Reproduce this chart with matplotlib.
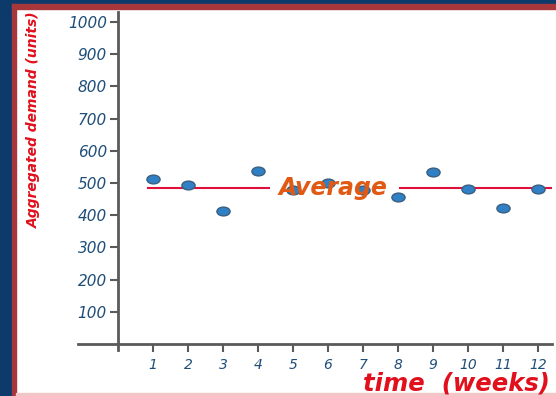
import matplotlib.pyplot as plt
from matplotlib.patches import Rectangle
from matplotlib.path import Path
from matplotlib.transforms import Affine2D

weeks = [1, 2, 3, 4, 5, 6, 7, 8, 9, 10, 11, 12]
demand = [512, 494, 413, 537, 478, 500, 478, 456, 534, 481, 422, 481]
average = 484
y_ticks = [100, 200, 300, 400, 500, 600, 700, 800, 900, 1000]

W, H = 556, 396
fig = plt.figure(figsize=(W / 100, H / 100), dpi=100)
fig.patch.set_facecolor("white")

# slide frame: navy strips + red border
navy = "#0b3a6b"
red = "#a8373b"
fig.patches.append(Rectangle((0, 0), 12 / W, 1, transform=fig.transFigure, color=navy, zorder=0))
fig.patches.append(Rectangle((0, 1 - 4 / H), 1, 4 / H, transform=fig.transFigure, color=navy, zorder=0))
fig.patches.append(Rectangle((12 / W, 0), 4 / W, 1 - 4 / H, transform=fig.transFigure, color=red, zorder=0))
fig.patches.append(Rectangle((12 / W, 1 - 9 / H), 1, 5 / H, transform=fig.transFigure, color=red, zorder=0))
fig.patches.append(Rectangle((16 / W, 0), 1, 3 / H, transform=fig.transFigure, color="#f2c6c6", zorder=0))

xmin, xmax = -1.13, 12.4
ymin, ymax = -20, 1030
px0 = 118 + 35 * xmin
px1 = 118 + 35 * xmax
py0 = 344 + 0.322 * 20
py1 = 344 - 0.322 * ymax
ax = fig.add_axes([px0 / W, 1 - py0 / H, (px1 - px0) / W, (py0 - py1) / H])
ax.set_facecolor("none")
ax.set_xlim(xmin, xmax)
ax.set_ylim(ymin, ymax)

for s in ["top", "right"]:
    ax.spines[s].set_visible(False)
ax.spines["left"].set_position(("data", 0))
ax.spines["bottom"].set_position(("data", 0))
for s in ["left", "bottom"]:
    ax.spines[s].set_color("#5a5a5a")
    ax.spines[s].set_linewidth(2)

ax.set_xticks(weeks)
ax.set_xticklabels([str(w) for w in weeks])
ax.set_yticks(y_ticks)
ax.set_yticklabels([str(v) for v in y_ticks])
ax.tick_params(axis="both", colors="#5a5a5a", width=1.5, length=6, direction="out")
ax.tick_params(axis="x", labelcolor="#1f4e79", labelsize=10, pad=4)
ax.tick_params(axis="y", labelcolor="#1f4e79", labelsize=11, pad=2)
for lab in ax.get_xticklabels() + ax.get_yticklabels():
    lab.set_fontstyle("italic")

# average line, broken around its label
avg_col = "#e0103c"
ax.plot([weeks[0] - 0.15, 4.3], [average, average], color=avg_col, lw=1.5, zorder=2)
ax.plot([8.05, xmax], [average, average], color=avg_col, lw=1.5, zorder=2)

ellipse = Path.unit_circle().transformed(Affine2D().scale(1.5, 1.0))
ax.scatter(weeks, demand, s=90, marker=ellipse, color="#2f80c4", edgecolors="#3a5f80",
           linewidths=1, zorder=3)

ax.text(6.15, average, "Average", color="#e05a14", fontsize=17, fontstyle="italic",
        fontweight="bold", ha="center", va="center", zorder=4)

fig.text(34 / W, 1 - 120 / H, "Aggregated demand (units)", rotation=90, color="#e0101c",
         fontsize=10, fontstyle="italic", fontweight="bold", ha="center", va="center")
fig.text(550 / W, 1 - 383 / H, "time  (weeks)", color="#e0101c", fontsize=17.5,
         fontstyle="italic", fontweight="bold", ha="right", va="center")

fig.savefig("out.png", dpi=100)
